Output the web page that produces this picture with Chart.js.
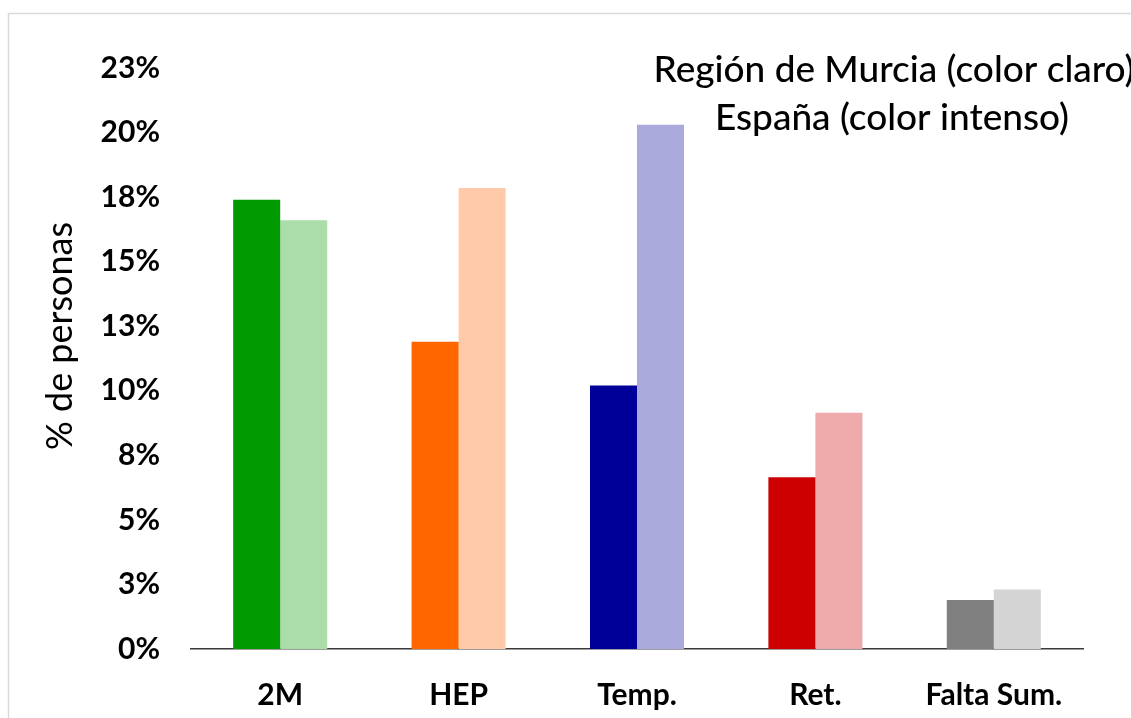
<!DOCTYPE html>
<html>
<head>
<meta charset="utf-8">
<script src="https://cdn.jsdelivr.net/npm/chart.js@4/dist/chart.umd.min.js"></script>
<style>
  html, body { margin: 0; padding: 0; background: #ffffff; }
  #wrap { width: 1131px; height: 718px; position: relative; }
</style>
</head>
<body>
<div id="wrap"><canvas id="c" width="1131" height="718"></canvas></div>
<script>
const categories = ['2M', 'HEP', 'Temp.', 'Ret.', 'Falta Sum.'];
const espanaValues = [17.4, 11.9, 10.2, 6.65, 1.9];
const murciaValues = [16.6, 17.85, 20.3, 9.15, 2.3];
const espanaColors = ['#009900', '#ff6600', '#000099', '#cc0000', '#808080'];
const murciaColors = ['#aaddaa', '#ffcaa9', '#a9a9db', '#eeaaaa', '#d4d4d4'];
const yTickValues = [0, 2.5, 5, 7.5, 10, 12.5, 15, 17.5, 20, 22.5];
const yTickLabels = ['0%', '3%', '5%', '8%', '10%', '13%', '15%', '18%', '20%', '23%'];
const yTitle = '% de personas';
const noteLines = ['Región de Murcia (color claro)', 'España (color intenso)'];

const FONT = 'Lato, "Open Sans", sans-serif';

const framePlugin = {
  id: 'frame',
  beforeDraw(chart) {
    const ctx = chart.ctx;
    ctx.save();
    ctx.fillStyle = '#ffffff';
    ctx.fillRect(0, 0, chart.width, chart.height);
    ctx.strokeStyle = '#d9d9d9';
    ctx.lineWidth = 1.5;
    ctx.strokeRect(8.5, 13.5, 1300, 900);
    ctx.restore();
  },
  afterDraw(chart) {
    const ctx = chart.ctx;
    ctx.save();
    ctx.fillStyle = '#000000';
    ctx.textAlign = 'center';
    ctx.textBaseline = 'middle';
    ctx.font = '500 37px ' + FONT;
    ctx.fillText(noteLines[0], 894, 70);
    ctx.fillText(noteLines[1], 892, 118);
    // y title
    ctx.translate(60, 336);
    ctx.rotate(-Math.PI / 2);
    ctx.font = '36px ' + FONT;
    ctx.fillText(yTitle, 0, 0);
    ctx.restore();
  }
};

new Chart(document.getElementById('c'), {
  type: 'bar',
  data: {
    labels: categories,
    datasets: [
      { label: 'España', data: espanaValues, backgroundColor: espanaColors, borderWidth: 0 },
      { label: 'Región de Murcia', data: murciaValues, backgroundColor: murciaColors, borderWidth: 0 }
    ]
  },
  options: {
    responsive: false,
    animation: false,
    layout: { padding: { left: 0, top: 68, right: 48, bottom: 0 } },
    plugins: { legend: { display: false }, tooltip: { enabled: false }, title: { display: false } },
    datasets: { bar: { categoryPercentage: 0.527, barPercentage: 1.0 } },
    scales: {
      x: {
        grid: { display: false, drawTicks: false },
        border: { display: true, color: '#3a3a3a', width: 1.5 },
        ticks: { color: '#000000', font: { family: FONT, size: 30, weight: 'bold' }, padding: 28, maxRotation: 0, autoSkip: false },
        afterFit(scale) { scale.height = 69; }
      },
      y: {
        min: 0,
        max: 22.5,
        grid: { display: false, drawTicks: false },
        border: { display: false },
        afterBuildTicks(scale) { scale.ticks = yTickValues.map(v => ({ value: v })); },
        ticks: {
          color: '#000000',
          font: { family: FONT, size: 30, weight: 'bold' },
          padding: 31,
          callback: (v, i) => yTickLabels[i]
        },
        afterFit(scale) { scale.width = 191; }
      }
    }
  },
  plugins: [framePlugin]
});
</script>
</body>
</html>
